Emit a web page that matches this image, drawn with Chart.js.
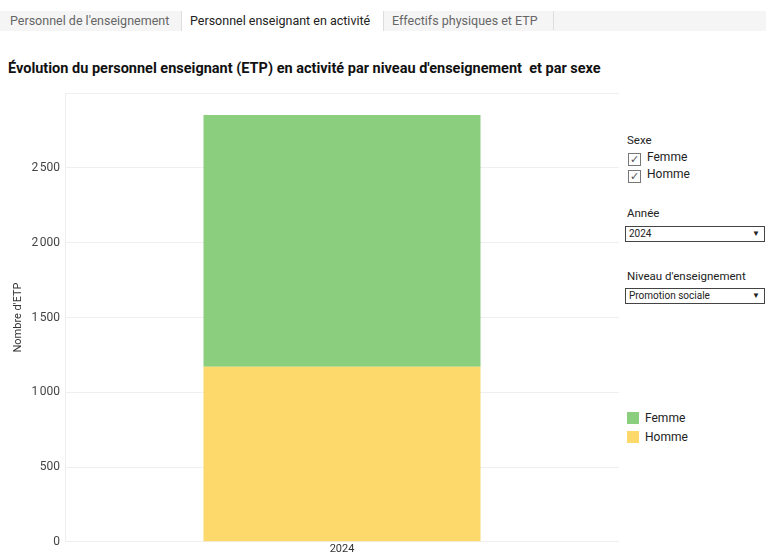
<!DOCTYPE html>
<html><head><meta charset="utf-8">
<script src="https://cdn.jsdelivr.net/npm/chart.js@4/dist/chart.umd.min.js"></script>
<style>
html,body{margin:0;padding:0;background:#fff;width:766px;height:554px;overflow:hidden;font-family:"Segoe UI",Roboto,"Noto Sans",sans-serif;}
#tabs{position:absolute;left:0;top:11px;width:766px;height:20px;background:#f5f5f5;}
.tab{position:absolute;top:0;height:19px;font-size:12.5px;line-height:19px;color:#666;padding:0 8px;box-sizing:border-box;}
.tab.sel{background:#fff;color:#222;border-left:1px solid #ddd;border-right:1px solid #ddd;height:20px;}
#title{position:absolute;left:8px;top:60px;font-family:Roboto,sans-serif;font-weight:bold;font-size:14.5px;color:#111;white-space:nowrap;}
#wrap{position:absolute;left:0;top:81px;width:625px;height:473px;}
#side{position:absolute;left:625px;top:0;width:141px;font-size:12px;color:#222;}
.lbl{position:absolute;left:2px;font-size:11.5px;color:#222;}
.cb{position:absolute;left:3px;font-size:12px;}
.cb span.box{display:inline-block;width:11px;height:11px;border:1px solid #777;vertical-align:-2px;margin-right:6px;font-size:11px;line-height:11px;text-align:center;color:#555;}
.dd{position:absolute;left:0;width:140px;height:16px;border:1px solid #444;font-size:10px;line-height:14px;padding-left:3px;box-sizing:border-box;background:#fff;}
.dd .ar{position:absolute;right:4px;top:0;font-size:8px;}
#legend{position:absolute;left:627px;top:412px;font-size:12px;color:#222;}
#legend div{height:19px;line-height:13px;}
#legend i{display:inline-block;width:12px;height:12px;vertical-align:-2px;margin-right:6px;}
</style></head><body>
<div id="tabs">
  <div class="tab" style="left:2px;width:179px;">Personnel de l'enseignement</div>
  <div class="tab sel" style="left:181px;width:203px;">Personnel enseignant en activité</div>
  <div class="tab" style="left:384px;width:170px;border-right:1px solid #ddd;">Effectifs physiques et ETP</div>
</div>
<div id="title">Évolution du personnel enseignant (ETP) en activité par niveau d'enseignement&nbsp; et par sexe</div>
<div id="wrap"><canvas id="c"></canvas></div>
<div id="side">
  <div class="lbl" style="top:133px;">Sexe</div>
  <div class="cb" style="top:150px;"><span class="box">✓</span>Femme</div>
  <div class="cb" style="top:167px;"><span class="box">✓</span>Homme</div>
  <div class="lbl" style="top:206px;">Année</div>
  <div class="dd" style="top:226px;">2024<span class="ar">▼</span></div>
  <div class="lbl" style="top:269px;">Niveau d'enseignement</div>
  <div class="dd" style="top:288px;">Promotion sociale<span class="ar">▼</span></div>
</div>
<div id="legend"></div>
<script>
const categories = ["2024"];
const seriesNames = ["Femme", "Homme"];
const femmeValues = [1685];
const hommeValues = [1170];
const seriesColors = ["#8ACE7E", "#FDD86A"];
const yTickValues = [0, 500, 1000, 1500, 2000, 2500];
const yMax = 3000;

const chart = new Chart(document.getElementById('c'), {
  type: 'bar',
  data: {
    labels: categories,
    datasets: [
      {label: seriesNames[0], data: femmeValues, backgroundColor: seriesColors[0], order: 2},
      {label: seriesNames[1], data: hommeValues, backgroundColor: seriesColors[1], order: 1}
    ]
  },
  options: {
    responsive: true, maintainAspectRatio: false, animation: false,
    layout: {padding: {top: 4, right: 6, left: 12, bottom: 0}},
    plugins: {legend: {display: false}, tooltip: {enabled: false}},
    datasets: {bar: {categoryPercentage: 0.5, barPercentage: 1.0}},
    scales: {
      x: {
        stacked: true,
        grid: {display: false, drawTicks: false},
        border: {display: false},
        ticks: {color: '#333', font: {size: 11, family: 'Roboto'}, padding: 1},
        afterFit: s => { s.height = 12; }
      },
      y: {
        stacked: true, min: 0, max: yMax,
        afterBuildTicks: s => { s.ticks = yTickValues.concat([yMax]).map(v => ({value: v})); },
        ticks: {
          color: '#444', font: {size: 12, family: 'Roboto'}, padding: 5,
          callback: v => yTickValues.includes(v) ? String(v).replace(/(\d)(?=(\d{3})+$)/g, '$1\u202F') : ''
        },
        grid: {color: '#efefef', drawTicks: false},
        border: {color: '#eeeeee'},
        title: {display: true, text: "Nombre d'ETP", color: '#333', font: {size: 11, family: 'Roboto'}, padding: 0},
        afterFit: s => { s.width = 53; }
      }
    }
  }
});

const lg = document.getElementById('legend');
chart.data.datasets.forEach(d => {
  const row = document.createElement('div');
  row.innerHTML = '<i style="background:' + d.backgroundColor + '"></i>' + d.label;
  lg.appendChild(row);
});
</script>
</body></html>
